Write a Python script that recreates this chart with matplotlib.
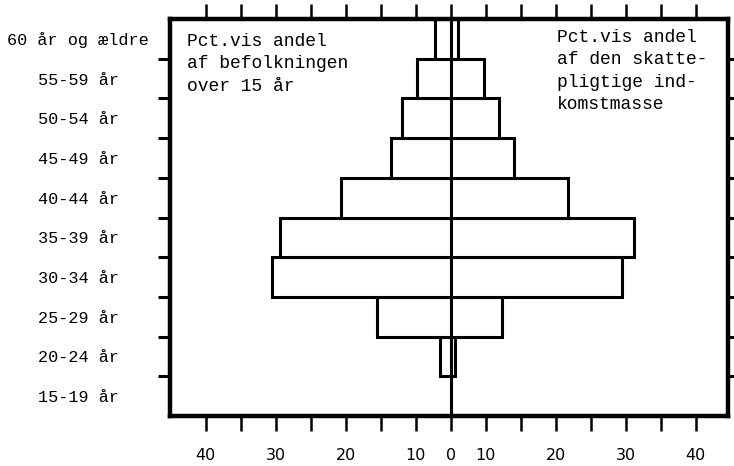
import numpy as np
import matplotlib.pyplot as plt
from matplotlib.ticker import FixedLocator

# ============================================================
# DATA (percent)
# ============================================================

age_groups = [
    "15-19 år", "20-24 år", "25-29 år", "30-34 år", "35-39 år",
    "40-44 år", "45-49 år", "50-54 år", "55-59 år", "60 år og ældre",
]

population_share = [0.0, 1.6, 10.5, 25.6, 24.4, 15.7, 8.6, 6.9, 4.8, 2.2]
income_share = [0.0, 0.6, 7.3, 24.4, 26.2, 16.8, 9.0, 6.9, 4.7, 1.1]

x_tick_pos = [-35, -30, -25, -20, -15, -10, -5, 0, 5, 10, 15, 20, 25, 30, 35]
x_tick_text = ["40", "", "30", "", "20", "", "10", "0", "10", "", "20", "", "30", "", "40"]

left_note = "Pct.vis andel\naf befolkningen\nover 15 år"
right_note = "Pct.vis andel\naf den skatte-\npligtige ind-\nkomstmasse"

# ============================================================
# PLOT
# ============================================================

mono = "Liberation Mono"

fig = plt.figure(figsize=(7.34, 4.66), dpi=100)
ax = fig.add_axes([170 / 734, 1 - 416 / 466, (728 - 170) / 734, (416 - 19) / 466])

y = np.arange(len(age_groups))

ax.barh(y, -np.array(population_share), height=1.0, left=0,
        facecolor="white", edgecolor="black", linewidth=2.2, zorder=2)
ax.barh(y, income_share, height=1.0, left=0,
        facecolor="white", edgecolor="black", linewidth=2.2, zorder=2)

ax.axvline(0, color="black", linewidth=1.1, zorder=3)

ax.set_xlim(-40.1, 39.6)
ax.set_ylim(-0.5, len(age_groups) - 0.5)

# spines
for s in ax.spines.values():
    s.set_linewidth(3.2)

# x ticks, top and bottom
ax.set_xticks(x_tick_pos)
ax.set_xticklabels(x_tick_text, fontsize=11.5, family="DejaVu Sans")
ax.tick_params(axis="x", which="major", direction="out", length=11, width=1.8,
               top=True, bottom=True, labeltop=False, pad=12)

# y ticks: labels at band centres, marks at band boundaries
ax.set_yticks(y)
ax.set_yticklabels(age_groups, fontsize=12.2, family=mono, ha="center")
ax.tick_params(axis="y", which="major", length=0, pad=66)
ax.yaxis.set_minor_locator(FixedLocator(np.arange(0.5, len(age_groups) - 1, 1.0)))
ax.tick_params(axis="y", which="minor", direction="out", length=9, width=2.2,
               left=True, right=True)

# notes
fig.text(187 / 734, 1 - 33 / 466, left_note, fontsize=13, family=mono,
         ha="left", va="top", linespacing=1.42)
fig.text(557 / 734, 1 - 29 / 466, right_note, fontsize=13, family=mono,
         ha="left", va="top", linespacing=1.42)

fig.savefig("out.png", dpi=100)
